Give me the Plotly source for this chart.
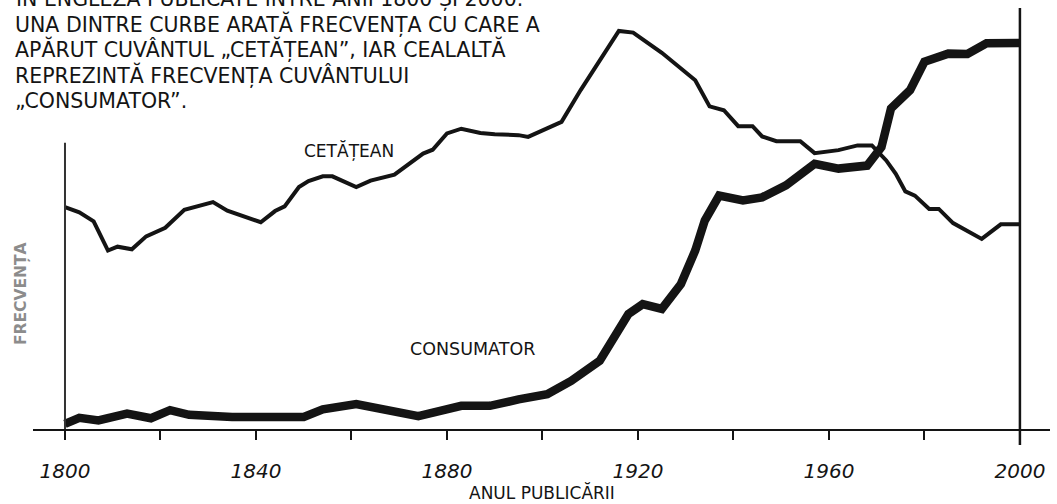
import plotly.graph_objects as go

# ---- data ----
cetatean_years = [1800, 1803, 1806, 1809, 1811, 1814, 1817, 1821, 1825, 1831,
                  1834, 1838, 1841, 1844, 1846, 1849, 1851, 1854, 1856, 1861,
                  1864, 1869, 1875, 1877, 1880, 1883, 1887, 1890, 1895, 1897,
                  1904, 1908, 1916, 1919, 1925, 1932, 1935, 1938, 1941, 1944,
                  1946, 1949, 1954, 1957, 1962, 1966, 1969, 1972, 1974, 1976,
                  1978, 1981, 1983, 1986, 1992, 1996, 2000]
cetatean_freq = [51.7, 50.5, 48.4, 41.6, 42.5, 41.9, 44.9, 46.9, 51.1, 52.9,
                 50.9, 49.4, 48.2, 50.8, 51.9, 56.4, 57.8, 58.9, 58.9, 56.4,
                 57.9, 59.3, 64.2, 65.1, 68.9, 70.0, 69.0, 68.7, 68.5, 68.1,
                 71.6, 79.0, 92.8, 92.4, 87.7, 81.3, 75.2, 74.3, 70.6, 70.6,
                 68.2, 67.1, 67.1, 64.3, 65.0, 66.1, 66.1, 62.6, 59.5, 55.4,
                 54.4, 51.3, 51.3, 48.0, 44.3, 47.7, 47.7]

consumator_years = [1800, 1803, 1807, 1813, 1818, 1822, 1826, 1835, 1850, 1854,
                    1861, 1874, 1883, 1889, 1895, 1901, 1906, 1912, 1918, 1921,
                    1925, 1929, 1932, 1934, 1937, 1942, 1946, 1951, 1957, 1962,
                    1968, 1971, 1973, 1977, 1980, 1985, 1989, 1993, 2000]
consumator_freq = [1.2, 2.6, 2.0, 3.6, 2.5, 4.4, 3.3, 2.8, 2.8, 4.6,
                   5.8, 3.0, 5.4, 5.4, 6.9, 8.1, 11.2, 15.9, 26.8, 29.1,
                   28.0, 33.8, 41.6, 48.6, 54.4, 53.3, 54.0, 56.8, 61.8, 60.7,
                   61.4, 65.7, 74.7, 79.0, 85.6, 87.5, 87.4, 89.9, 90.0]

tick_years = [1800, 1820, 1840, 1860, 1880, 1900, 1920, 1940, 1960, 1980, 2000]
tick_labels = ["1800", "", "1840", "", "1880", "", "1920", "", "1960", "", "2000"]

intro_lines = [
    "ÎN ENGLEZĂ PUBLICATE ÎNTRE ANII 1800 ȘI 2000.",
    "UNA DINTRE CURBE ARATĂ FRECVENȚA CU CARE A",
    "APĂRUT CUVÂNTUL „CETĂȚEAN”, IAR CEALALTĂ",
    "REPREZINTĂ FRECVENȚA CUVÂNTULUI",
    "„CONSUMATOR”.",
]

# ---- layout geometry ----
W, H = 1057, 504
ML, MR, MT, MB = 33, 7, 0, 75
PW, PH = W - ML - MR, H - MT - MB
FONT = "DejaVu Sans"
INK = "#141414"


def px(x):
    return (x - ML) / PW


def py(y):
    return (MT + PH - y) / PH


fig = go.Figure()
fig.add_trace(go.Scatter(x=cetatean_years, y=cetatean_freq, mode="lines",
                         line=dict(color=INK, width=4), name="CETĂȚEAN",
                         hoverinfo="skip"))
fig.add_trace(go.Scatter(x=consumator_years, y=consumator_freq, mode="lines",
                         line=dict(color=INK, width=8.5), name="CONSUMATOR",
                         hoverinfo="skip"))

# left (short) and right (tall) vertical lines
fig.add_shape(type="line", xref="x", yref="y", x0=1800, x1=1800, y0=0, y1=66.7,
              line=dict(color="#333", width=2))
fig.add_shape(type="line", xref="x", yref="paper", x0=2000, x1=2000,
              y0=py(445), y1=py(8), line=dict(color=INK, width=2.5))

annotations = []
for i, line in enumerate(intro_lines):
    annotations.append(dict(text=line, x=px(13), y=py(-2 + 25.7 * i),
                            xref="paper", yref="paper", xanchor="left",
                            yanchor="middle", showarrow=False,
                            font=dict(family=FONT, size=20.5, color=INK)))


def label(text, x, y, size, color=INK, angle=0):
    return dict(text=text, x=px(x), y=py(y), xref="paper", yref="paper",
                xanchor="center", yanchor="middle", showarrow=False,
                textangle=angle, font=dict(family=FONT, size=size, color=color))


annotations += [
    label("CETĂȚEAN", 349, 150, 17),
    label("CONSUMATOR", 472, 349, 17.5),
    label("ANUL PUBLICĂRII", 542, 492, 17),
    label("<b>FRECVENȚA</b>", 21, 294, 15.5, color="#8c8c8c", angle=-90),
]

fig.update_layout(
    width=W, height=H,
    margin=dict(l=ML, r=MR, t=MT, b=MB),
    paper_bgcolor="white", plot_bgcolor="white",
    showlegend=False,
    annotations=annotations,
    xaxis=dict(range=[1793.3, 2006.3], showgrid=False, zeroline=False,
               showline=True, linecolor=INK, linewidth=2,
               ticks="outside", ticklen=9, tickwidth=2, tickcolor=INK,
               tickvals=tick_years, ticktext=tick_labels,
               ticklabelstandoff=14,
               tickfont=dict(family=FONT, size=20, color=INK, style="italic")),
    yaxis=dict(range=[0, 100], visible=False),
)

fig.write_html("out.html",
               config={"displayModeBar": False, "staticPlot": True},
               post_script="document.body.style.margin='0';"
                           "document.body.style.overflow='hidden';")
